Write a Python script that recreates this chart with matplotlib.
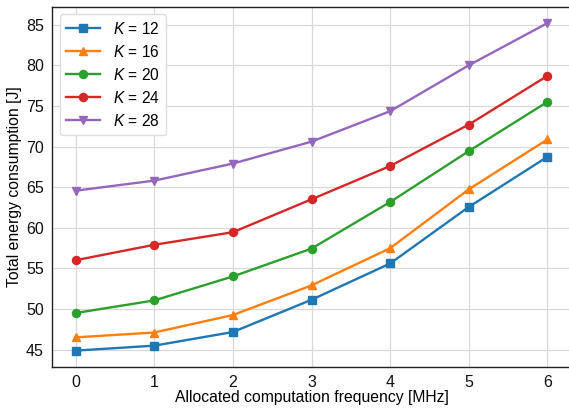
import numpy as np
import matplotlib
matplotlib.use("Agg")
import matplotlib.pyplot as plt

plt.rcParams['font.family'] = ['Liberation Sans', 'DejaVu Sans']
plt.rcParams['mathtext.fontset'] = 'custom'
plt.rcParams['mathtext.it'] = 'Liberation Sans:italic'
plt.rcParams['mathtext.rm'] = 'Liberation Sans'

freq = [0, 1, 2, 3, 4, 5, 6]
k_values = [12, 16, 20, 24, 28]
energy_k12 = [44.87, 45.48, 47.16, 51.13, 55.6, 62.56, 68.73]
energy_k16 = [46.5, 47.1, 49.25, 52.9, 57.48, 64.73, 70.87]
energy_k20 = [49.5, 51.05, 54.0, 57.43, 63.17, 69.43, 75.5]
energy_k24 = [56.0, 57.9, 59.45, 63.5, 67.6, 72.7, 78.7]
energy_k28 = [64.56, 65.8, 67.9, 70.6, 74.35, 80.0, 85.2]

series = [energy_k12, energy_k16, energy_k20, energy_k24, energy_k28]
markers = ['s', '^', 'o', 'o', 'v']
colors = ['#1f77b4', '#ff7f0e', '#2ca02c', '#d62728', '#9467bd']

fig = plt.figure(figsize=(5.69, 4.08), dpi=100)
ax = fig.add_axes([52 / 569, 41 / 408, 519 / 569, 360.3 / 408])

for k, vals, m, c in zip(k_values, series, markers, colors):
    ax.plot(freq, vals, marker=m, color=c, lw=1.7, ms=5.8,
            label=r'$K$ = %d' % k)

ax.grid(True, color='#d9d9d9', lw=0.9)
ax.set_axisbelow(True)
ax.tick_params(length=0, labelsize=11.5, pad=6, colors='#111111')
ax.set_xlabel('Allocated computation frequency [MHz]', fontsize=11.3, labelpad=0)
ax.set_ylabel('Total energy consumption [J]', fontsize=11.3, labelpad=3)
ax.set_xticks(freq)
ax.set_yticks([45, 50, 55, 60, 65, 70, 75, 80, 85])
for s in ax.spines.values():
    s.set_color('#222222')
    s.set_linewidth(1.0)

ax.legend(loc='upper left', fontsize=11.2, handlelength=2.2, labelspacing=0.45,
          edgecolor='#dddddd', framealpha=1.0, borderaxespad=0.5)

fig.savefig('out.png', dpi=100)
